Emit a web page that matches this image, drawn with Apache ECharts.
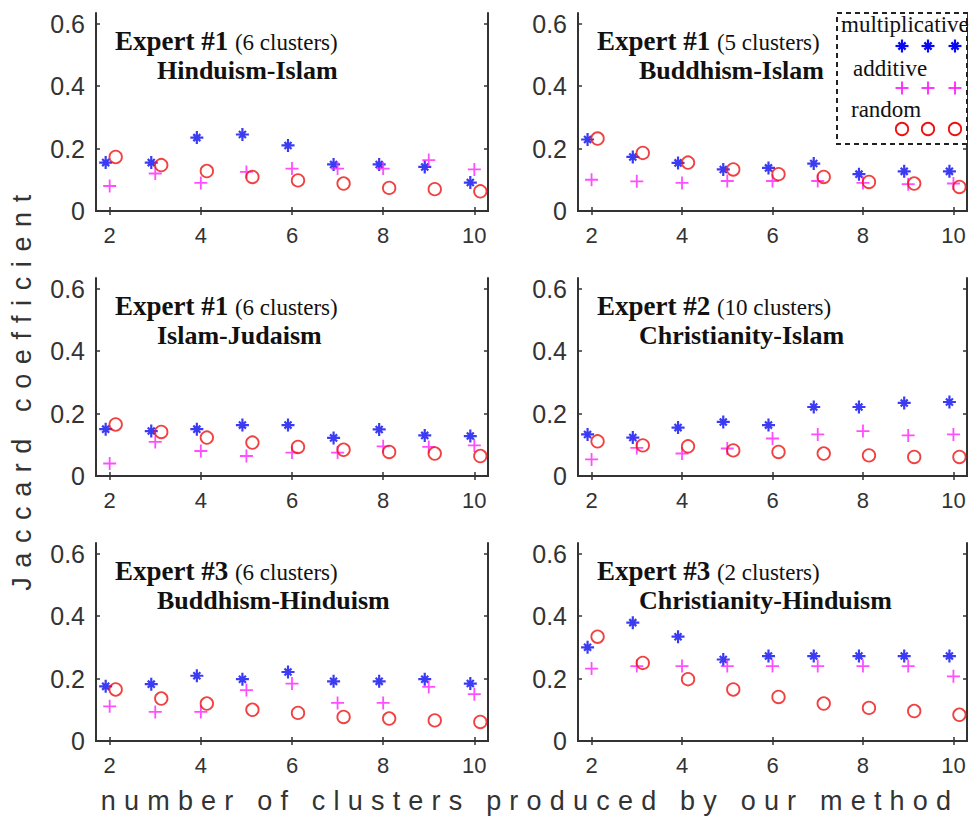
<!DOCTYPE html>
<html><head><meta charset="utf-8">
<script src="https://cdn.jsdelivr.net/npm/echarts@6/dist/echarts.min.js"></script>
<style>html,body{margin:0;padding:0;background:#fff}#c{width:972px;height:817px}</style>
</head><body><div id="c"></div>
<script>
// ---------- data ----------
const clusters = [2,3,4,5,6,7,8,9,10];
const xTicks = [2,4,6,8,10];
const yTicks = [0,0.2,0.4,0.6];
const seriesNames = ['multiplicative','additive','random'];
const panelExperts = ['Expert #1','Expert #1','Expert #1','Expert #2','Expert #3','Expert #3'];
const panelClusterCounts = ['(6 clusters)','(5 clusters)','(6 clusters)','(10 clusters)','(6 clusters)','(2 clusters)'];
const panelPairs = ['Hinduism-Islam','Buddhism-Islam','Islam-Judaism','Christianity-Islam','Buddhism-Hinduism','Christianity-Hinduism'];
const xTitle = 'number of clusters produced by our method';
const yTitle = 'Jaccard coefficient';

const hinIslMult = [0.155,0.155,0.235,0.245,0.21,0.149,0.149,0.141,0.091];
const hinIslAdd  = [0.08,0.12,0.09,0.125,0.136,0.136,0.136,0.163,0.133];
const hinIslRand = [0.173,0.147,0.128,0.109,0.098,0.088,0.074,0.07,0.063];

const budIslMult = [0.229,0.173,0.154,0.133,0.138,0.152,0.118,0.127,0.127];
const budIslAdd  = [0.10,0.095,0.09,0.096,0.096,0.096,0.09,0.086,0.088];
const budIslRand = [0.232,0.186,0.155,0.133,0.118,0.109,0.093,0.088,0.077];

const islJudMult = [0.15,0.144,0.15,0.163,0.163,0.122,0.149,0.13,0.128];
const islJudAdd  = [0.04,0.109,0.08,0.064,0.075,0.075,0.095,0.093,0.098];
const islJudRand = [0.165,0.141,0.123,0.107,0.093,0.084,0.077,0.072,0.064];

const chrIslMult = [0.133,0.123,0.155,0.173,0.163,0.221,0.221,0.234,0.237];
const chrIslAdd  = [0.053,0.09,0.072,0.088,0.12,0.133,0.144,0.13,0.133];
const chrIslRand = [0.111,0.098,0.095,0.082,0.077,0.072,0.066,0.061,0.061];

const budHinMult = [0.175,0.182,0.209,0.198,0.221,0.191,0.191,0.198,0.184];
const budHinAdd  = [0.111,0.093,0.093,0.163,0.184,0.122,0.122,0.173,0.15];
const budHinRand = [0.165,0.136,0.12,0.10,0.09,0.077,0.072,0.066,0.061];

const chrHinMult = [0.30,0.379,0.334,0.261,0.272,0.272,0.272,0.272,0.272];
const chrHinAdd  = [0.232,0.24,0.24,0.24,0.24,0.24,0.24,0.24,0.207];
const chrHinRand = [0.334,0.25,0.198,0.165,0.141,0.12,0.106,0.096,0.084];

const panelData = [
  [hinIslMult, hinIslAdd, hinIslRand],
  [budIslMult, budIslAdd, budIslRand],
  [islJudMult, islJudAdd, islJudRand],
  [chrIslMult, chrIslAdd, chrIslRand],
  [budHinMult, budHinAdd, budHinRand],
  [chrHinMult, chrHinAdd, chrHinRand]
];

// ---------- layout / style ----------
const gridRects = [
  {left:96, top:13, width:392, height:198},
  {left:578, top:13, width:389, height:198},
  {left:96, top:278, width:392, height:198},
  {left:578, top:278, width:389, height:198},
  {left:96, top:543, width:392, height:198},
  {left:578, top:543, width:389, height:198}
];
const X_MIN = 1.7, X_MAX = 10.3, Y_MIN = 0, Y_MAX = 0.634;
const AX = '#333';
const SANS = '"Liberation Sans", Arial, sans-serif';
const SERIF = '"Liberation Serif", "Times New Roman", serif';
const STAR = 'path://M5,0L5,10M0,5L10,5M2.3,2.3L7.7,7.7M7.7,2.3L2.3,7.7';
const PLUS = 'path://M5,0L5,10M0,5L10,5';
const seriesStyles = [
  {symbol: STAR, symbolSize: 13, symbolOffset: [-4,0], itemStyle:{color:'rgba(0,0,0,0)', borderColor:'#0a0af0', borderWidth:2.2}},
  {symbol: PLUS, symbolSize: 13, symbolOffset: [0,0], itemStyle:{color:'rgba(0,0,0,0)', borderColor:'#ff22ff', borderWidth:1.8}},
  {symbol: 'circle', symbolSize: 12.5, symbolOffset: [6,0], itemStyle:{color:'rgba(0,0,0,0)', borderColor:'#ee1111', borderWidth:1.8}}
];

const grid = gridRects.map(r => Object.assign({containLabel:false}, r));
const xAxis = [], yAxis = [], series = [], graphic = [];

gridRects.forEach((r, i) => {
  const common = {type:'value', gridIndex:i, splitLine:{show:false},
    axisLine:{show:true, lineStyle:{color:AX, width:2}},
    axisTick:{show:true, inside:true, length:4, lineStyle:{color:AX, width:1.5}}};
  xAxis.push(Object.assign({}, common, {position:'bottom', min:X_MIN, max:X_MAX,
    axisTick:Object.assign({}, common.axisTick, {customValues:xTicks}),
    axisLabel:{show:true, customValues:xTicks, fontSize:22, fontFamily:SANS, color:'#333', margin:13}}));
  xAxis.push(Object.assign({}, common, {position:'top', min:X_MIN, max:X_MAX,
    axisTick:Object.assign({}, common.axisTick, {customValues:xTicks}),
    axisLabel:{show:false}}));
  yAxis.push(Object.assign({}, common, {position:'left', min:Y_MIN, max:Y_MAX,
    axisTick:Object.assign({}, common.axisTick, {customValues:yTicks}),
    axisLabel:{show:true, customValues:yTicks, fontSize:25, fontFamily:SANS, color:'#333', margin:11,
      formatter: v => String(Math.round(v*10)/10)}}));
  yAxis.push(Object.assign({}, common, {position:'right', min:Y_MIN, max:Y_MAX,
    axisTick:Object.assign({}, common.axisTick, {customValues:yTicks}),
    axisLabel:{show:false}}));

  panelData[i].forEach((vals, k) => {
    series.push(Object.assign({
      type:'scatter', name:seriesNames[k], xAxisIndex:2*i, yAxisIndex:2*i,
      data: clusters.map((c, j) => [c, vals[j]]), z: 2 + k
    }, seriesStyles[k]));
  });

  // panel titles
  const x1 = r.left + 19, base1 = r.top + 35, base2 = r.top + 64;
  graphic.push({type:'text', x:x1, y:base1 + 6, z:10, style:{
    text:'{b|' + panelExperts[i] + '}  {n|' + panelClusterCounts[i] + '}',
    verticalAlign:'bottom', fill:'#111',
    rich:{b:{fontFamily:SERIF, fontWeight:'bold', fontSize:27, verticalAlign:'bottom', lineHeight:30},
          n:{fontFamily:SERIF, fontSize:23, verticalAlign:'bottom', lineHeight:30}}}});
  graphic.push({type:'text', x:x1 + 42, y:base2 + 6, z:10, style:{
    text:panelPairs[i], fontFamily:SERIF, fontWeight:'bold', fontSize:26, fill:'#111', verticalAlign:'bottom'}});
});

// legend box (inside panel 2)
const lg = {x:837, y:13, right:967, bottom:144};
graphic.push({type:'rect', z:5, shape:{x:lg.x, y:lg.y, width:lg.right-lg.x, height:lg.bottom-lg.y},
  style:{fill:'#fff', stroke:'#222', lineWidth:2, lineDash:[5,4]}});
const legendRows = [{label:seriesNames[0], tx:841, ty:31, my:46},
                    {label:seriesNames[1], tx:853, ty:75, my:88},
                    {label:seriesNames[2], tx:851, ty:116, my:129}];
const legendMarkerX = [902, 928, 955];
legendRows.forEach((row, k) => {
  graphic.push({type:'text', x:row.tx, y:row.ty + 5, z:11, style:{text:row.label, fontFamily:SERIF, fontSize:23, fill:'#111', verticalAlign:'bottom'}});
  legendMarkerX.forEach(mx => {
    const st = seriesStyles[k].itemStyle;
    if (k === 2) {
      graphic.push({type:'circle', z:11, shape:{cx:mx, cy:row.my, r:6.2}, style:{fill:'none', stroke:st.borderColor, lineWidth:st.borderWidth}});
    } else {
      const s = 6.5, d = 3.6;
      const segs = [[mx-s,row.my,mx+s,row.my],[mx,row.my-s,mx,row.my+s]];
      if (k === 0) segs.push([mx-d,row.my-d,mx+d,row.my+d],[mx+d,row.my-d,mx-d,row.my+d]);
      segs.forEach(g => graphic.push({type:'line', z:11, shape:{x1:g[0],y1:g[1],x2:g[2],y2:g[3]}, style:{stroke:st.borderColor, lineWidth:st.borderWidth}}));
    }
  });
});

// axis titles
graphic.push({type:'text', x:530, y:801, z:10, style:{text:xTitle, fontFamily:SANS, fontSize:27, fill:'#333', align:'center', verticalAlign:'middle'}});
graphic.push({type:'text', x:22, y:388, rotation:Math.PI/2, z:10, style:{text:yTitle, fontFamily:SANS, fontSize:27, fill:'#333', align:'center', verticalAlign:'middle'}});

const chart = echarts.init(document.getElementById('c'), null, {renderer:'svg'});
chart.setOption({animation:false, backgroundColor:'#fff', grid, xAxis, yAxis, series, graphic});

function spaceTitles(){
  document.querySelectorAll('#c text').forEach(t => {
    const s = t.textContent;
    if (s === xTitle) t.style.letterSpacing = '8.2px';
    if (s === yTitle) t.style.letterSpacing = '9.6px';
  });
}
chart.on('finished', spaceTitles);
setTimeout(spaceTitles, 50);
</script></body></html>
